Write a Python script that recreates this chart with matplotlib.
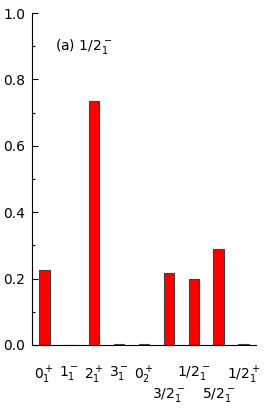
import matplotlib
matplotlib.use("Agg")
import matplotlib.pyplot as plt
from matplotlib.ticker import MultipleLocator
import matplotlib.transforms as mtransforms

categories = [r"$0_1^+$", r"$1_1^-$", r"$2_1^+$", r"$3_1^-$", r"$0_2^+$",
              r"$3/2_1^-$", r"$1/2_1^-$", r"$5/2_1^-$", r"$1/2_1^+$"]
values = [0.226, 0.0, 0.735, 0.003, 0.002, 0.218, 0.200, 0.288, 0.002]
label_row = [0, 0, 0, 0, 0, 1, 0, 1, 0]
yticks = [0.0, 0.2, 0.4, 0.6, 0.8, 1.0]

plt.rcParams['mathtext.fontset'] = 'dejavusans'
fig = plt.figure(figsize=(2.72, 4.09), dpi=100)
ax = fig.add_axes([0.1176, 0.1565, 0.8235, 0.8117])

x = list(range(len(categories)))
ax.bar(x, values, width=0.42, color='#ff0000', edgecolor='#404040', linewidth=0.8)
ax.set_xlim(-0.5, 8.5)
ax.set_ylim(0, 1.0)
ax.set_yticks(yticks)
ax.set_yticklabels([f"{v:.1f}" for v in yticks], fontsize=10)
ax.yaxis.set_minor_locator(MultipleLocator(0.1))
ax.tick_params(axis='y', which='major', direction='in', length=4, width=0.8, pad=5)
ax.tick_params(axis='y', which='minor', direction='in', length=2, width=0.8)
ax.set_xticks([])
for s in ['top', 'right']:
    ax.spines[s].set_visible(False)
for s in ['left', 'bottom']:
    ax.spines[s].set_linewidth(0.8)

trans = mtransforms.blended_transform_factory(ax.transData, ax.transAxes)
for xi, lab, row in zip(x, categories, label_row):
    ax.text(xi, -0.058 - 0.066 * row, lab, transform=trans, ha='center', va='top', fontsize=10)

ax.text(0.42, 0.90, r"(a) $1/2_1^-$", fontsize=10, ha='left', va='center')

fig.savefig("out.png", dpi=100)
